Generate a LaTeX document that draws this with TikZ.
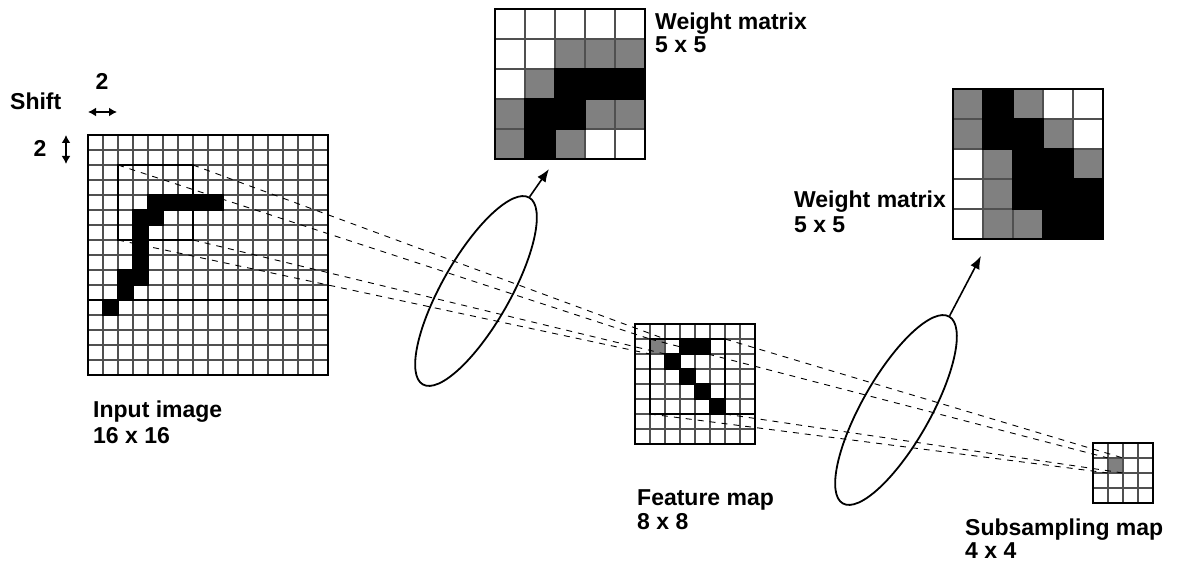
\documentclass[tikz,border=0pt]{standalone}
\usepackage{fontspec}
\setmainfont{Liberation Sans}
\usetikzlibrary{shapes.geometric,arrows.meta}
\definecolor{gridgray}{RGB}{80,80,80}
\definecolor{cellgray}{RGB}{128,128,128}
\tikzset{
  gridline/.style={draw=gridgray, line width=1.1pt},
  framebox/.style={draw=black, line width=2pt, inner sep=0pt, outer sep=0pt, anchor=north west},
  wframe/.style={draw=black, line width=1.4pt, inner sep=0pt, outer sep=0pt, anchor=north west},
  winbox/.style={draw=black, line width=2pt, inner sep=0pt, outer sep=0pt, anchor=north west, minimum width=75pt, minimum height=75pt},
  cellbox/.style={inner sep=0pt, outer sep=0pt, anchor=north west, minimum width=15pt, minimum height=15pt},
  rf/.style={draw=black, line width=0.9pt, dash pattern=on 6pt off 6pt},
  lens/.style={ellipse, draw=black, line width=1.8pt, inner sep=0pt, minimum width=215pt, minimum height=68pt, rotate=60.35},
  arrowline/.style={draw=black, line width=1.6pt, -{Latex[length=13pt,width=10pt]}},
  shiftarrow/.style={draw=black, line width=1.6pt, {Latex[length=8pt,width=9pt]}-{Latex[length=8pt,width=9pt]}},
  lbl/.style={anchor=base west, inner sep=0pt, font=\fontsize{23}{26}\selectfont\bfseries},
}
\newcommand\mygridlines[5]{%
  \pgfmathtruncatemacro\mygc{#3-1}%
  \pgfmathtruncatemacro\mygr{#4-1}%
  \foreach \i in {1,...,\mygc} \draw[gridline] ({#1+#5*\i},#2) -- ({#1+#5*\i},{#2+#5*#4});
  \foreach \j in {1,...,\mygr} \draw[gridline] (#1,{#2+#5*\j}) -- ({#1+#5*#3},{#2+#5*\j});
}
\begin{document}
\begin{tikzpicture}[x=1pt,y=-1pt]
\useasboundingbox (0,0) rectangle (1178,564);

% ---------- Input image ----------
\mygridlines{88}{135}{16}{16}{15}
\foreach \c/\r in {4/4,5/4,6/4,7/4,8/4,3/5,4/5,3/6,3/7,3/8,2/9,3/9,2/10,1/11}
  \fill[black] ({88+15*\c-0.6},{135+15*\r-0.6}) rectangle +(16.2,16.2);
\draw[black, line width=2pt] (88,300) -- (328,300);
\node[framebox, minimum width=240pt, minimum height=240pt] (input) at (88,135) {};
\node[winbox] (inwin) at (118,165) {};

% ---------- Feature map ----------
\node[cellbox, fill=cellgray] (fgray) at (650,339) {};
\mygridlines{635}{324}{8}{8}{15}
\foreach \c/\r in {3/1,4/1,2/2,3/3,4/4,5/5}
  \fill[black] ({635+15*\c-0.6},{324+15*\r-0.6}) rectangle +(16.2,16.2);
\node[framebox, minimum width=120pt, minimum height=120pt] (feat) at (635,324) {};
\node[winbox] (fwin) at (650,339) {};
\draw[black, line width=2pt] (fwin.south east) -- (755,414);

% ---------- Subsampling map ----------
\node[cellbox, fill=cellgray] (sgray) at (1108,458) {};
\mygridlines{1093}{443}{4}{4}{15}
\node[framebox, minimum width=60pt, minimum height=60pt] (sub) at (1093,443) {};

% ---------- Weight matrix 1 ----------
\foreach \c/\r in {2/1,3/1,4/1,1/2,0/3,3/3,4/3,0/4,2/4}
  \fill[cellgray] ({495+30*\c},{9+30*\r}) rectangle +(30,30);
\mygridlines{495}{9}{5}{5}{30}
\foreach \c/\r in {2/2,3/2,4/2,1/3,2/3,1/4}
  \fill[black] ({495+30*\c-0.6},{9+30*\r-0.6}) rectangle +(31.2,31.2);
\node[wframe, minimum width=150pt, minimum height=150pt] (wm1) at (495,9) {};

% ---------- Weight matrix 2 ----------
\foreach \c/\r in {0/0,2/0,0/1,3/1,1/2,4/2,1/3,1/4,2/4}
  \fill[cellgray] ({953+30*\c},{89+30*\r}) rectangle +(30,30);
\mygridlines{953}{89}{5}{5}{30}
\foreach \c/\r in {1/0,1/1,2/1,2/2,3/2,2/3,3/3,4/3,3/4,4/4}
  \fill[black] ({953+30*\c-0.6},{89+30*\r-0.6}) rectangle +(31.2,31.2);
\node[wframe, minimum width=150pt, minimum height=150pt] (wm2) at (953,89) {};

% ---------- receptive-field lines ----------
\draw[rf] (inwin.north west) -- (fgray.north west);
\draw[rf] (inwin.north east) -- (fgray.north east);
\draw[rf] (inwin.south west) -- (fgray.south west);
\draw[rf] (inwin.south east) -- (fgray.south east);
\draw[rf] (fwin.north west) -- (sgray.north west);
\draw[rf] (fwin.north east) -- (sgray.north east);
\draw[rf] (fwin.south west) -- (sgray.south west);
\draw[rf] (fwin.south east) -- (sgray.south east);

% ---------- lenses and arrows ----------
\node[lens] (ell1) at (476,291) {};
\node[lens] (ell2) at (896,410) {};
\coordinate (tip1) at (549,169);
\coordinate (tip2) at (981,256);
\draw[arrowline] (ell1.east) -- (tip1);
\draw[arrowline] (ell2.east) -- (tip2);

% ---------- shift ----------
\coordinate (hs1) at (88,112);
\coordinate (hs2) at (117,112);
\coordinate (vs1) at (66,135);
\coordinate (vs2) at (66,164);
\draw[shiftarrow] (hs1) -- (hs2);
\draw[shiftarrow] (vs1) -- (vs2);
\node[lbl] (shiftt) at (10,110) {Shift};
\node[lbl, anchor=base] (two1) at (102,90) {2};
\node[lbl, anchor=base] (two2) at (40,157) {2};

% ---------- labels ----------
\node[lbl] (inl1) at (93,417) {Input image};
\node[lbl] (inl2) at (93,443) {16 x 16};
\node[lbl] (wm1l1) at (655,30) {Weight matrix};
\node[lbl] (wm1l2) at (655,53) {5 x 5};
\node[lbl, anchor=base east] (wm2l1) at (946,208) {Weight matrix};
\node[lbl] (wm2l2) at ([yshift=-25pt]wm2l1.base west) {5 x 5};
\node[lbl] (fml1) at (637,505) {Feature map};
\node[lbl] (fml2) at (637,529) {8 x 8};
\node[lbl] (sml1) at (965,535) {Subsampling map};
\node[lbl] (sml2) at (965,558) {4 x 4};
\end{tikzpicture}
\end{document}
